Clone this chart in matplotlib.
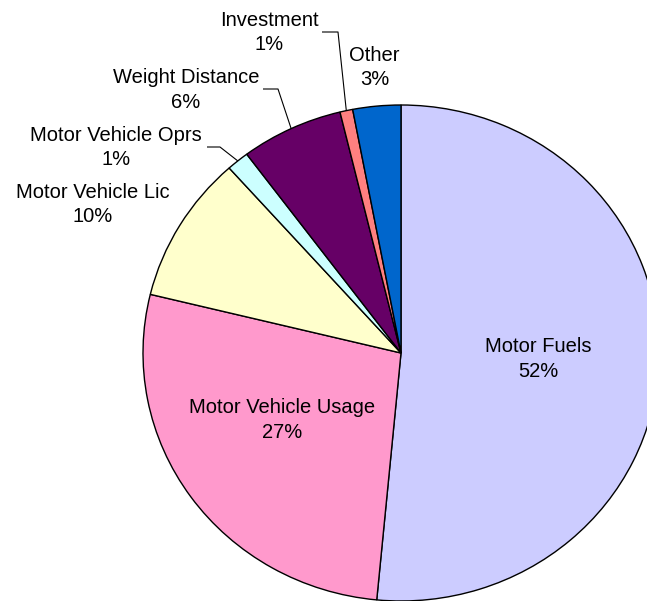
import numpy as np
import matplotlib
matplotlib.use("Agg")
import matplotlib.pyplot as plt

# ---- data (clockwise from 12 o'clock) ----
categories = ["Motor Fuels", "Motor Vehicle Usage", "Motor Vehicle Lic",
              "Motor Vehicle Oprs", "Weight Distance", "Investment", "Other"]
shares = [51.5, 27.3, 9.6, 1.4, 6.4, 0.8, 3.0]
colors = ["#CCCCFF", "#FF99CC", "#FFFFCC", "#CCFFFF", "#660066", "#FF8080", "#0066CC"]

# ---- layout (pixels) ----
W, H = 647, 601
CX, CY = 401, 353      # pie centre in pixels
RX, RY = 258, 248      # pie radii in pixels

plt.rcParams['font.family'] = ['Liberation Sans', 'DejaVu Sans']
fig = plt.figure(figsize=(W / 100, H / 100), dpi=100)
ax = fig.add_axes([0, 0, 1, 1])

wedges, _ = ax.pie(shares, colors=colors, startangle=90, counterclock=False,
                   radius=1.0, center=(0, 0),
                   wedgeprops=dict(edgecolor="black", linewidth=1.0))
ax.set_aspect('auto')
ax.set_xlim(-CX / RX, (W - CX) / RX)
ax.set_ylim(-(H - CY) / RY, CY / RY)
ax.axis('off')


def px(x, y):
    """pixel -> data coordinates"""
    return (x - CX) / RX, (CY - y) / RY


# label positions (pixel centres) and optional leader geometry
label_pos = {
    "Motor Fuels": (538, 359),
    "Motor Vehicle Usage": (282, 420),
    "Motor Vehicle Lic": (92.5, 204.5),
    "Motor Vehicle Oprs": (116, 147.5),
    "Weight Distance": (186, 90),
    "Investment": (269, 32.5),
    "Other": (374.5, 67.5),
}
leaders = {
    "Motor Vehicle Oprs": [(207, 147), (220, 147)],
    "Weight Distance": [(263, 89), (278, 89)],
    "Investment": [(322, 32), (338, 32)],
}
pct_labels = ["52%", "27%", "10%", "1%", "6%", "1%", "3%"]

for w, cat, pct in zip(wedges, categories, pct_labels):
    lx, ly = label_pos[cat]
    tx, ty = px(lx, ly)
    ax.text(tx, ty, f"{cat}\n{pct}", ha="center", va="center",
            fontsize=14.5, color="black", linespacing=1.38)
    if cat in leaders:
        mid = np.deg2rad((w.theta1 + w.theta2) / 2)
        rim = (np.cos(mid) * 1.0, np.sin(mid) * 1.0)
        pts = [px(*p) for p in leaders[cat]] + [rim]
        xs, ys = zip(*pts)
        ax.plot(xs, ys, color="black", linewidth=0.8, solid_capstyle="butt")

fig.savefig("out.png", dpi=100)
